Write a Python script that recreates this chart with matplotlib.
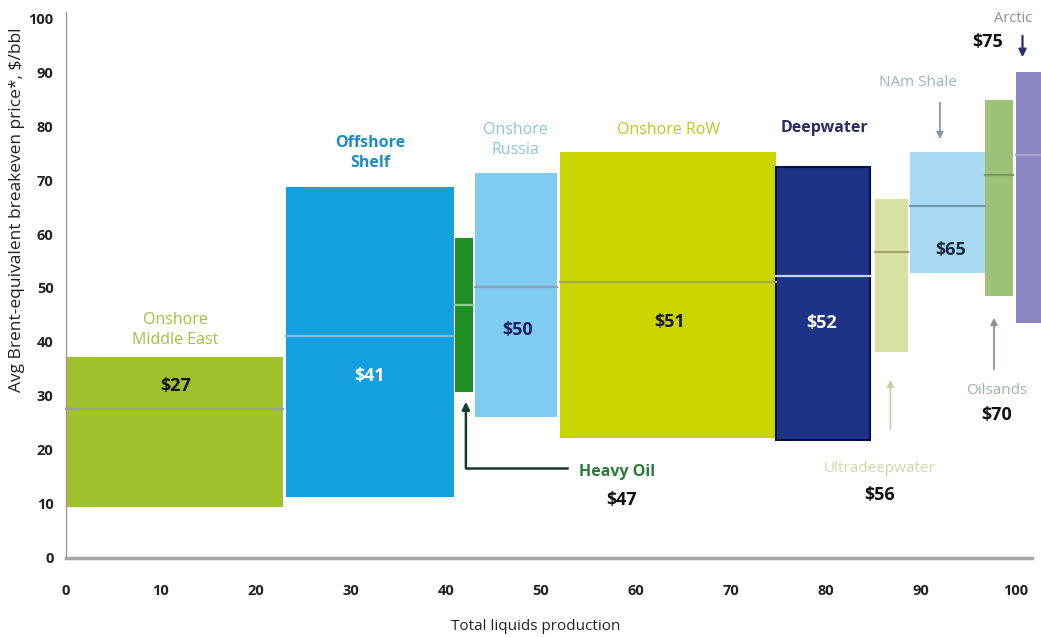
import matplotlib
matplotlib.use("Agg")
import matplotlib.pyplot as plt
from matplotlib.patches import Rectangle

plt.rcParams['font.family'] = ['Open Sans', 'DejaVu Sans']

# ---- data ----
categories = ["Onshore Middle East", "Offshore Shelf", "Heavy Oil", "Onshore Russia",
              "Onshore RoW", "Deepwater", "Ultradeepwater", "NAm Shale", "Oilsands", "Arctic"]
x_left = [0.0, 23.2, 41.0, 43.1, 52.0, 74.8, 85.2, 88.9, 96.7, 100.0]
widths = [22.8, 17.6, 1.8, 8.6, 22.8, 9.8, 3.4, 7.8, 3.0, 3.2]
low = [9.4, 11.2, 30.7, 26.1, 22.2, 21.8, 38.1, 52.8, 48.5, 43.5]
high = [37.2, 68.7, 59.3, 71.3, 75.2, 72.5, 66.5, 75.2, 84.9, 90.1]
median = [27.5, 41.1, 46.8, 50.2, 51.1, 52.2, 56.7, 65.2, 71.0, 74.7]
price_labels = ["$27", "$41", "$47", "$50", "$51", "$52", "$56", "$65", "$70", "$75"]
x_ticks = [0, 10, 20, 30, 40, 50, 60, 70, 80, 90, 100]
y_ticks = [0, 10, 20, 30, 40, 50, 60, 70, 80, 90, 100]

# ---- styles ----
colors = ['#9fc22c', '#14a0e0', '#1f8f24', '#80cbf0', '#c9d400', '#1c3388',
          '#d9e1a2', '#a8d8f2', '#9dc277', '#8a86c4']
edges = [None, None, None, None, None, '#0a1040', None, None, None, None]
med_colors = ['#9aa39a', '#7fb8d8', '#8fd08f', '#8aa0b8', '#a8a850', '#c8d0ec',
              '#a0a070', '#6f9ab0', '#7a9a60', '#a8a2d0']
CAT_FS = 11.5
PRICE_FS = 13

fig = plt.figure(figsize=(10.41, 6.37), dpi=100)
ax = fig.add_axes([66/1041, 1-557.5/637, (1032-66)/1041, (557.5-12)/637])
ax.set_xlim(0, 101.7)
ax.set_ylim(0, 101.2)

for i in range(len(categories)):
    r = Rectangle((x_left[i], low[i]), widths[i], high[i]-low[i],
                  facecolor=colors[i],
                  edgecolor=edges[i] if edges[i] else colors[i],
                  linewidth=1.5 if edges[i] else 0, clip_on=False, zorder=2)
    ax.add_patch(r)
    ax.plot([x_left[i], x_left[i]+widths[i]], [median[i], median[i]],
            color=med_colors[i], lw=1.6, clip_on=False, zorder=3)

def esc(s):
    return s.replace('$', r'\$')

def price(x, y, idx, color='#111111'):
    ax.text(x, y, esc(price_labels[idx]), ha='center', va='center', fontsize=PRICE_FS,
            fontweight='bold', color=color, zorder=4)

# in-bar price labels
price(11.5, 31.8, 0)
price(32.0, 33.7, 1, 'white')
price(47.5, 42.2, 3, '#1a2060')
price(63.6, 43.6, 4, '#1a1a30')
price(79.6, 43.5, 5, 'white')
price(93.1, 57.0, 7, '#1a2a40')
price(97.0, 95.6, 9)
price(98.0, 26.4, 8)
price(85.7, 11.6, 6)
price(58.5, 10.7, 2)

# category labels
ax.text(11.5, 42.2, "Onshore\nMiddle East", ha='center', va='center', fontsize=CAT_FS, color='#a6bf3c', linespacing=1.3)
ax.text(32.0, 75.0, "Offshore\nShelf", ha='center', va='center', fontsize=CAT_FS, fontweight='bold', color='#1a8cc8', linespacing=1.3)
ax.text(47.3, 77.5, "Onshore\nRussia", ha='center', va='center', fontsize=CAT_FS, color='#8cc4dc', linespacing=1.3)
ax.text(63.4, 79.4, "Onshore RoW", ha='center', va='center', fontsize=CAT_FS, color='#bcc820')
ax.text(79.9, 79.7, "Deepwater", ha='center', va='center', fontsize=CAT_FS, fontweight='bold', color='#2a2d60')
ax.text(89.7, 88.2, "NAm Shale", ha='center', va='center', fontsize=CAT_FS - 0.5, color='#98b4cc')
ax.text(99.7, 100.0, "Arctic", ha='center', va='center', fontsize=CAT_FS - 1, color='#8a8aa0', clip_on=False)
ax.text(98.0, 30.9, "Oilsands", ha='center', va='center', fontsize=CAT_FS - 0.5, color='#a0b4a0')
ax.text(85.7, 16.6, "Ultradeepwater", ha='center', va='center', fontsize=CAT_FS - 0.5, color='#d0d8a8')
ax.text(58.0, 15.9, "Heavy Oil", ha='center', va='center', fontsize=CAT_FS, fontweight='bold', color='#2a7a3a')

# arrows
ax.annotate("", xy=(92.0, 77.1), xytext=(92.0, 84.9),
            arrowprops=dict(arrowstyle='-|>', color='#8a98a8', lw=1.3, mutation_scale=10))
ax.annotate("", xy=(100.7, 92.3), xytext=(100.7, 97.3),
            arrowprops=dict(arrowstyle='-|>', color='#2a2f70', lw=1.6, mutation_scale=11), annotation_clip=False)
ax.annotate("", xy=(97.7, 45.0), xytext=(97.7, 34.4),
            arrowprops=dict(arrowstyle='-|>', color='#8a9a8a', lw=1.3, mutation_scale=10))
ax.annotate("", xy=(86.8, 33.5), xytext=(86.8, 23.3),
            arrowprops=dict(arrowstyle='-|>', color='#c8d0a8', lw=1.3, mutation_scale=10))
ax.plot([52.7, 42.1], [16.6, 16.6], color='#1a3a2a', lw=1.8)
ax.annotate("", xy=(42.1, 29.4), xytext=(42.1, 16.6),
            arrowprops=dict(arrowstyle='-|>', color='#1a3a2a', lw=1.8, mutation_scale=11, shrinkA=0))

# axes styling
for s in ['top', 'right']:
    ax.spines[s].set_visible(False)
ax.spines['left'].set_color('#9a9a9a')
ax.spines['left'].set_linewidth(1.0)
ax.spines['bottom'].set_color('#a8a8a8')
ax.spines['bottom'].set_linewidth(2.5)
ax.set_xticks(x_ticks)
ax.set_yticks(y_ticks)
ax.set_xticklabels([str(t) for t in x_ticks], fontsize=10.5, fontweight='bold', color='#222222')
ax.set_yticklabels([str(t) for t in y_ticks], fontsize=10.5, fontweight='bold', color='#222222')
ax.tick_params(axis='x', length=0, pad=19)
ax.tick_params(axis='y', length=0, pad=9)
ax.set_xlabel("Total liquids production", fontsize=11, color='#222222')
ax.set_ylabel(r"Avg Brent-equivalent breakeven price*, \$/bbl", fontsize=12.5, color='#222222')
ax.xaxis.set_label_coords(49.4/101.7, -62/545.5)
ax.yaxis.set_label_coords(-41/966, 0.637)
ax.patch.set_alpha(0)

fig.savefig("out.png", dpi=100)
